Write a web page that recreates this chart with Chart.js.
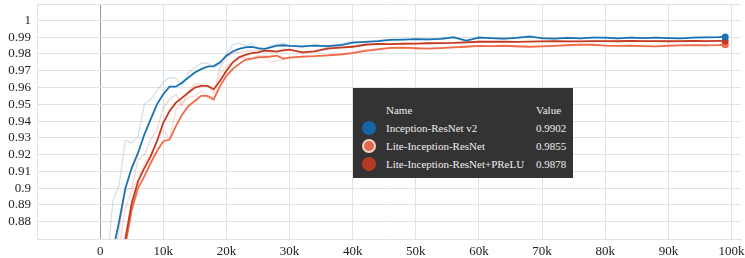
<!DOCTYPE html>
<html lang="en">
<head>
<meta charset="UTF-8">
<title>Accuracy</title>
<script src="https://cdn.jsdelivr.net/npm/chart.js"></script>
<style>
    body { margin: 0; background: #fff; }
    #wrap { position: relative; width: 745px; height: 258px; }
    #tip {
        position: absolute; left: 353px; top: 88px; width: 220px; height: 90px;
        background: #333333; color: #eeeeee;
        font-family: "Liberation Serif", "Times New Roman", "DejaVu Serif", serif; font-size: 11px;
    }
    #tip .row { position: absolute; left: 0; width: 220px; height: 18px; line-height: 18px; }
    #tip .dot { position: absolute; left: 9px; top: 2px; width: 14px; height: 14px; border-radius: 50%; box-sizing: border-box; }
    #tip .name { position: absolute; left: 33px; }
    #tip .val { position: absolute; left: 183px; }
</style>
</head>
<body>
<div id="wrap">
    <canvas id="myChart"></canvas>
    <div id="tip"></div>
</div>
<script>
// steps in thousands
var steps = [1, 2, 3, 4, 5, 6, 7, 8, 9, 10, 11, 12, 13, 14, 15, 16, 17, 18, 19, 20,
    21, 22, 23, 24, 25, 26, 27, 28, 29, 30,
    32, 34, 36, 38, 40, 42, 44, 46, 48, 50, 52, 54, 56, 58, 60, 62, 64, 66, 68, 70,
    72, 74, 76, 78, 80, 82, 84, 86, 88, 90, 92, 94, 96, 98, 99];

var seriesNames = ['Inception-ResNet v2', 'Lite-Inception-ResNet', 'Lite-Inception-ResNet+PReLU'];

// smoothed values
var incepSmooth = [0.830, 0.862, 0.880, 0.900, 0.912, 0.921, 0.932, 0.941, 0.950, 0.956,
    0.9605, 0.9605, 0.963, 0.966, 0.969, 0.971, 0.9725, 0.9728, 0.975, 0.979,
    0.9815, 0.983, 0.984, 0.9842, 0.9835, 0.983, 0.984, 0.985, 0.9852, 0.9848,
    0.9845, 0.9850, 0.9847, 0.9852, 0.9868, 0.9872, 0.9877, 0.9884, 0.9886, 0.9888,
    0.9887, 0.9890, 0.9899, 0.9880, 0.9898, 0.9895, 0.9891, 0.9896, 0.9904, 0.9895,
    0.9892, 0.9896, 0.9893, 0.9898, 0.9897, 0.9893, 0.9897, 0.9895, 0.9897, 0.9895,
    0.9893, 0.9897, 0.9899, 0.9900, 0.9902];
var liteSmooth = [0.790, 0.820, 0.845, 0.866, 0.887, 0.900, 0.907, 0.915, 0.922, 0.928,
    0.929, 0.937, 0.944, 0.949, 0.952, 0.955, 0.955, 0.953, 0.961, 0.967,
    0.971, 0.974, 0.9765, 0.9772, 0.978, 0.9782, 0.9785, 0.979, 0.9772, 0.9778,
    0.9784, 0.9787, 0.9792, 0.9797, 0.9805, 0.9818, 0.9828, 0.9836, 0.9838, 0.9835,
    0.9832, 0.9835, 0.9839, 0.9843, 0.9848, 0.9847, 0.9849, 0.9846, 0.9843, 0.9845,
    0.9848, 0.9852, 0.9856, 0.9855, 0.9850, 0.9848, 0.9849, 0.9847, 0.9845, 0.9849,
    0.9851, 0.9852, 0.9851, 0.9853, 0.9855];
var preluSmooth = [0.800, 0.830, 0.850, 0.870, 0.891, 0.904, 0.912, 0.919, 0.928, 0.939,
    0.946, 0.951, 0.954, 0.957, 0.960, 0.961, 0.961, 0.959, 0.964, 0.970,
    0.975, 0.978, 0.9795, 0.9805, 0.981, 0.982, 0.9818, 0.9814, 0.9822, 0.9826,
    0.9810, 0.9815, 0.9832, 0.9838, 0.9843, 0.9855, 0.9860, 0.9859, 0.9861, 0.9862,
    0.9864, 0.9865, 0.9866, 0.9869, 0.9873, 0.9874, 0.9873, 0.9872, 0.9874, 0.9875,
    0.9876, 0.9875, 0.9875, 0.9877, 0.9877, 0.9876, 0.9878, 0.9877, 0.9877, 0.9876,
    0.9877, 0.9878, 0.9877, 0.9878, 0.9878];

// raw values (faint lines)
var incepRaw = [0.850, 0.892, 0.902, 0.9285, 0.927, 0.931, 0.950, 0.953, 0.958, 0.963,
    0.966, 0.9655, 0.961, 0.969, 0.972, 0.9745, 0.9745, 0.972, 0.974, 0.980,
    0.9855, 0.9865, 0.985, 0.9862, 0.983, 0.982, 0.985, 0.9858, 0.9865, 0.985,
    0.9840, 0.9856, 0.9842, 0.9860, 0.9875, 0.9870, 0.9882, 0.9888, 0.9883, 0.9892,
    0.9884, 0.9895, 0.9905, 0.9872, 0.9905, 0.9892, 0.9888, 0.9900, 0.9910, 0.9890,
    0.9889, 0.9900, 0.9890, 0.9902, 0.9895, 0.9890, 0.9900, 0.9893, 0.9899, 0.9893,
    0.9891, 0.9900, 0.9901, 0.9902, 0.9903];
var liteRaw = [0.810, 0.840, 0.865, 0.888, 0.899, 0.905, 0.915, 0.920, 0.928, 0.935,
    0.929, 0.947, 0.951, 0.954, 0.955, 0.958, 0.954, 0.952, 0.968, 0.973,
    0.975, 0.977, 0.978, 0.9775, 0.979, 0.979, 0.975, 0.976, 0.9765, 0.978,
    0.9780, 0.9790, 0.9790, 0.9800, 0.9812, 0.9825, 0.9832, 0.9838, 0.9836, 0.9828,
    0.9834, 0.9838, 0.9842, 0.9846, 0.9850, 0.9844, 0.9850, 0.9842, 0.9842, 0.9848,
    0.9850, 0.9855, 0.9858, 0.9852, 0.9848, 0.9847, 0.9850, 0.9845, 0.9844, 0.9852,
    0.9852, 0.9853, 0.9850, 0.9855, 0.9856];
var preluRaw = [0.820, 0.850, 0.875, 0.899, 0.900, 0.917, 0.920, 0.929, 0.935, 0.948,
    0.953, 0.956, 0.949, 0.958, 0.962, 0.962, 0.961, 0.957, 0.972, 0.978,
    0.9805, 0.981, 0.9815, 0.982, 0.9825, 0.982, 0.981, 0.9818, 0.983, 0.9828,
    0.9806, 0.9820, 0.9838, 0.9836, 0.9848, 0.9860, 0.9858, 0.9857, 0.9864, 0.9860,
    0.9867, 0.9864, 0.9868, 0.9872, 0.9876, 0.9873, 0.9872, 0.9873, 0.9876, 0.9875,
    0.9877, 0.9874, 0.9876, 0.9878, 0.9876, 0.9877, 0.9879, 0.9876, 0.9878, 0.9875,
    0.9878, 0.9879, 0.9877, 0.9878, 0.9878];

var xTicks = [0, 10, 20, 30, 40, 50, 60, 70, 80, 90, 100];
var yTicks = [0.88, 0.89, 0.9, 0.91, 0.92, 0.93, 0.94, 0.95, 0.96, 0.97, 0.98, 0.99, 1];

var xMin = -10, xMax = 101.5;
var yMin = 0.8697, yMax = 1.0098;

var colors = ['#1b72b2', '#f26a48', '#c63a22'];
var fadedColors = ['rgba(27,114,178,0.22)', 'rgba(242,106,72,0.25)', 'rgba(198,58,34,0.22)'];
var serif = '"Liberation Serif", "Times New Roman", "DejaVu Serif", serif';

function toPoints(arr) {
    return steps.map(function (s, i) { return { x: s, y: arr[i] }; });
}

var lastIdx = steps.length - 1;
var smoothSets = [incepSmooth, liteSmooth, preluSmooth];
var rawSets = [incepRaw, liteRaw, preluRaw];

var datasets = [];
// smoothed lines on top: blue, red, orange
[0, 2, 1].forEach(function (i, n) {
    datasets.push({
        label: seriesNames[i],
        data: toPoints(smoothSets[i]),
        borderColor: colors[i],
        backgroundColor: colors[i],
        borderWidth: 1.8,
        pointRadius: function (c) { return c.dataIndex === lastIdx ? 3.5 : 0; },
        pointBorderWidth: 0,
        tension: 0,
        order: n
    });
});
[1, 2, 0].forEach(function (i, n) {
    datasets.push({
        label: seriesNames[i] + ' raw',
        data: toPoints(rawSets[i]),
        borderColor: fadedColors[i],
        borderWidth: 1.2,
        pointRadius: 0,
        tension: 0,
        order: 10 + n
    });
});

var ctx = document.getElementById('myChart').getContext('2d');
var myChart = new Chart(ctx, {
    type: 'line',
    data: { datasets: datasets },
    options: {
        responsive: true,
        maintainAspectRatio: false,
        animation: false,
        layout: { padding: { top: 3, right: 4, left: 0, bottom: 0 } },
        plugins: { legend: { display: false }, tooltip: { enabled: false } },
        scales: {
            x: {
                type: 'linear',
                min: xMin,
                max: xMax,
                afterBuildTicks: function (scale) {
                    scale.ticks = [{ value: xMin }].concat(xTicks.map(function (v) { return { value: v }; }));
                },
                afterFit: function (scale) {
                    scale.height = 19;
                    scale.paddingLeft = 0;
                    scale.paddingRight = 0;
                },
                grid: {
                    drawTicks: false,
                    color: function (c) { return c.tick && c.tick.value === 0 ? '#9a9a9a' : '#e2e2e2'; }
                },
                border: { color: '#e2e2e2' },
                ticks: {
                    autoSkip: false,
                    maxRotation: 0,
                    padding: 5,
                    color: '#222',
                    font: { family: serif, size: 13 },
                    callback: function (v) {
                        if (xTicks.indexOf(v) < 0) return '';
                        return v === 0 ? '0' : v + 'k';
                    }
                }
            },
            y: {
                min: yMin,
                max: yMax,
                afterBuildTicks: function (scale) {
                    scale.ticks = [{ value: yMin }].concat(yTicks.map(function (v) { return { value: v }; }), [{ value: yMax }]);
                },
                afterFit: function (scale) {
                    scale.width = 37;
                    scale.paddingTop = 0;
                    scale.paddingBottom = 0;
                },
                grid: { drawTicks: false, color: '#e2e2e2' },
                border: { color: '#e2e2e2' },
                ticks: {
                    autoSkip: false,
                    padding: 6,
                    color: '#222',
                    font: { family: serif, size: 13 },
                    callback: function (v) {
                        return yTicks.indexOf(v) < 0 ? '' : String(v);
                    }
                }
            }
        }
    }
});

// hover card like the original screenshot
var dotColors = ['#1565a6', '#e2694c', '#b53a26'];
var tip = document.getElementById('tip');
var html = '<div class="row" style="top:13px"><span class="name">Name</span><span class="val">Value</span></div>';
seriesNames.forEach(function (name, i) {
    var ring = i === 1 ? 'border:2px solid #f3d3c4;' : '';
    html += '<div class="row" style="top:' + (31 + i * 18) + 'px">' +
        '<span class="dot" style="background:' + dotColors[i] + ';' + ring + '"></span>' +
        '<span class="name">' + name + '</span>' +
        '<span class="val">' + smoothSets[i][lastIdx].toFixed(4) + '</span></div>';
});
tip.innerHTML = html;
</script>
</body>
</html>
